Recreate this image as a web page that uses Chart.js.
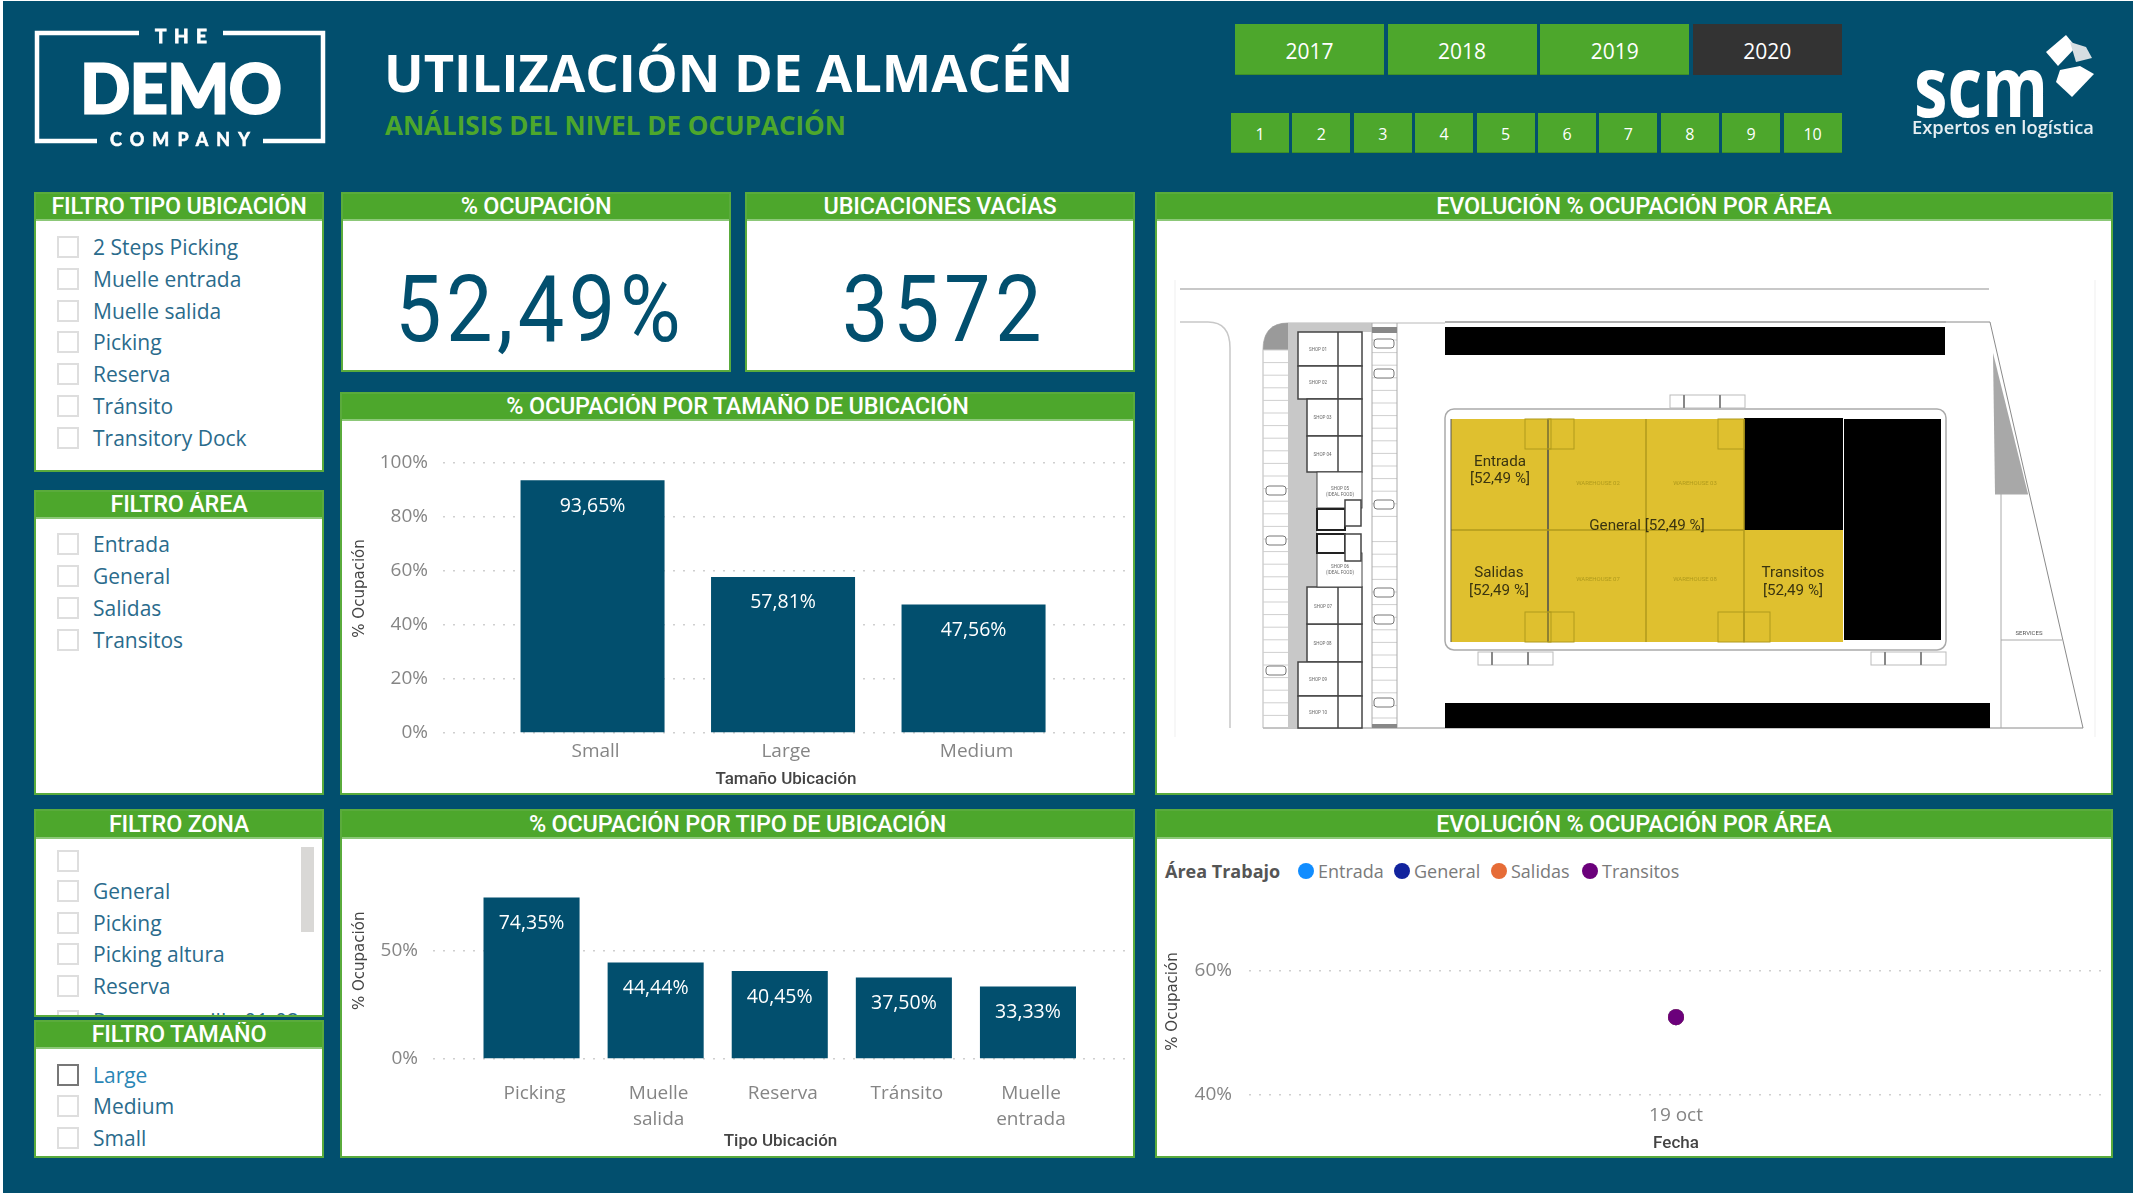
<!DOCTYPE html>
<html lang="es">
<head>
<meta charset="utf-8">
<title>Utilización de almacén</title>
<script src="https://cdn.jsdelivr.net/npm/chart.js@4/dist/chart.umd.js"></script>
<style>
html, body { margin: 0; padding: 0; background: #fff; width: 2133px; height: 1193px; overflow: hidden; }
#bg { position: absolute; left: 3px; top: 1px; width: 2130px; height: 1192px; background: #024f6e; }
.panel { position: absolute; background: #fff; box-sizing: border-box; border: 2px solid #5aab3c; overflow: hidden; }
.panel .head { position: absolute; left: -2px; right: -2px; top: -2px; background: #4da72c; border-bottom: 2px solid #8cc878; color: #fff;
  font: 500 23.4px Roboto, sans-serif; text-align: center; box-sizing: border-box; letter-spacing: -0.2px; }
.row { position: absolute; color: #2a6b8c; font: 400 21px "Open Sans", sans-serif; white-space: nowrap; line-height: 30px; }
.box { position: absolute; width: 22px; height: 22px; box-sizing: border-box; border: 2px solid #dedede; background: #fff; }
.btn { position: absolute; color: #fff; text-align: center; background: #4da72c; font-family: "Open Sans", sans-serif; border-bottom: 1px solid #3f8f27; box-sizing: border-box; }
.big { position: absolute; color: #024f6e; text-align: center; font: 400 92px Roboto, sans-serif; letter-spacing: 5px; line-height: 100px; transform: scaleX(0.9); }
.title { position: absolute; white-space: nowrap; font-family: "Open Sans", sans-serif; }
.leg { position: absolute; white-space: nowrap; font: 400 18px "Open Sans", sans-serif; color: #7a7a7a; line-height: 24px; }
.dot { position: absolute; width: 16px; height: 16px; border-radius: 50%; }
canvas { position: absolute; }
svg { position: absolute; left: 0; top: 0; pointer-events: none; }
</style>
</head>
<body>
<div id="bg"></div>
<div id="page"></div>
<canvas id="chartTamano" width="791" height="372" style="left:342px;top:422px"></canvas>
<canvas id="chartTipo" width="791" height="317" style="left:342px;top:839px"></canvas>
<canvas id="chartFecha" width="954" height="317" style="left:1157px;top:840px"></canvas>
<svg id="map" width="2133" height="1193" viewBox="0 0 2133 1193"></svg>

<script>
// datos
const aniosLabels = ['2017', '2018', '2019', '2020'];
const periodos = ['1', '2', '3', '4', '5', '6', '7', '8', '9', '10'];
const filtroTipo = ['2 Steps Picking', 'Muelle entrada', 'Muelle salida', 'Picking', 'Reserva', 'Tránsito', 'Transitory Dock'];
const filtroArea = ['Entrada', 'General', 'Salidas', 'Transitos'];
const filtroZona = ['', 'General', 'Picking', 'Picking altura', 'Reserva', 'Reserva pasillo 01-02'];
const filtroTamano = ['Large', 'Medium', 'Small'];

const tamanoLabels = ['Small', 'Large', 'Medium'];
const tamanoValores = [93.65, 57.81, 47.56];

const tipoLabels = [['Picking'], ['Muelle', 'salida'], ['Reserva'], ['Tránsito'], ['Muelle', 'entrada']];
const tipoValores = [74.35, 44.44, 40.45, 37.50, 33.33];

const fechaLabels = ['19 oct'];
const areaNombres = ['Entrada', 'General', 'Salidas', 'Transitos'];
const areaColores = ['#118dff', '#12239e', '#e66c37', '#6b007b'];
const areaValores = [52.49, 52.49, 52.49, 52.49];

const azul = '#024f6e';
const gris = '#858585';
const grisTitulo = '#444444';
const page = document.getElementById('page');

function div(cls, css, text) {
  const d = document.createElement('div');
  d.className = cls;
  d.style.cssText = css;
  if (text !== undefined) d.textContent = text;
  page.appendChild(d);
  return d;
}
function panel(x, y, w, h, titulo, hh) {
  const p = div('panel', `left:${x}px;top:${y}px;width:${w}px;height:${h}px`);
  const t = document.createElement('div');
  t.className = 'head';
  t.style.height = hh + 'px';
  t.style.lineHeight = hh + 'px';
  t.textContent = titulo;
  p.appendChild(t);
  return p;
}
function filas(p, px, py, items, centros, activo) {
  items.forEach((txt, i) => {
    const cy = centros[i] - py - 2;
    const b = document.createElement('div');
    b.className = 'box';
    b.style.cssText = `left:${57 - px - 2}px;top:${cy - 11}px` + (txt === activo ? ';border-color:#777' : '');
    p.appendChild(b);
    const r = document.createElement('div');
    r.className = 'row';
    r.style.cssText = `left:${93 - px - 2}px;top:${cy - 15}px` + (txt === activo ? ';color:#2a86b5' : '');
    r.textContent = txt;
    p.appendChild(r);
  });
}

// filtros
filas(panel(34, 192, 290, 280, 'FILTRO TIPO UBICACIÓN', 29), 34, 192, filtroTipo, [247, 279, 311, 342, 374, 406, 438]);
filas(panel(34, 490, 290, 305, 'FILTRO ÁREA', 29), 34, 490, filtroArea, [544, 576, 608, 640]);
const zona = panel(34, 809, 290, 208, 'FILTRO ZONA', 30);
filas(zona, 34, 809, filtroZona, [861, 891, 923, 954, 986, 1021]);
const barra = document.createElement('div');
barra.style.cssText = 'position:absolute;left:265px;top:36px;width:13px;height:85px;background:#d9d8d6';
zona.appendChild(barra);
filas(panel(34, 1020, 290, 138, 'FILTRO TAMAÑO', 29), 34, 1020, filtroTamano, [1075, 1106, 1138], 'Large');

// kpi
panel(341, 192, 390, 180, '% OCUPACIÓN', 29);
panel(745, 192, 390, 180, 'UBICACIONES VACÍAS', 29);
div('big', 'left:345px;top:260px;width:390px', '52,49%');
div('big', 'left:749px;top:260px;width:390px', '3572');

// demas paneles
panel(340, 392, 795, 403, '% OCUPACIÓN POR TAMAÑO DE UBICACIÓN', 29);
panel(340, 809, 795, 349, '% OCUPACIÓN POR TIPO DE UBICACIÓN', 30);
panel(1155, 192, 958, 603, 'EVOLUCIÓN % OCUPACIÓN POR ÁREA', 29);
panel(1155, 809, 958, 349, 'EVOLUCIÓN % OCUPACIÓN POR ÁREA', 30);

// cabecera
div('title', 'left:384px;top:36px;font-size:52.5px;font-weight:700;color:#fff;line-height:72px', 'UTILIZACIÓN DE ALMACÉN');
div('title', 'left:385px;top:107px;font-size:26px;font-weight:700;color:#4da72c;line-height:36px', 'ANÁLISIS DEL NIVEL DE OCUPACIÓN');
aniosLabels.forEach((a, i) => {
  const bg = a === '2020' ? 'background:#333;border:0' : '';
  div('btn', `left:${1235 + i * 152.6}px;top:24px;width:149px;height:51px;line-height:55px;font-size:21px;${bg}`, a);
});
periodos.forEach((n, i) => {
  div('btn', `left:${1231 + i * 61.4}px;top:113px;width:58px;height:40px;line-height:42px;font-size:16px`, n);
});

// leyenda del grafico de fechas
div('leg', 'left:1165px;top:859px;font-weight:700;color:#555', 'Área Trabajo');
const legX = [1298, 1394, 1491, 1582];
areaNombres.forEach((n, i) => {
  div('dot', `left:${legX[i]}px;top:863px;background:${areaColores[i]}`);
  div('leg', `left:${legX[i] + 20}px;top:859px`, n);
});

// logos y plano (dibujo de fondo, no son datos)
const svg = document.getElementById('map');
let s = '';
const rect = (x, y, w, h, f, st, sw, rx) => { s += `<rect x="${x}" y="${y}" width="${w}" height="${h}" fill="${f || 'none'}" stroke="${st || 'none'}" stroke-width="${sw || 1}" rx="${rx || 0}"/>`; };
const line = (a, b, c, d, st, sw) => { s += `<line x1="${a}" y1="${b}" x2="${c}" y2="${d}" stroke="${st}" stroke-width="${sw || 1}"/>`; };
const text = (x, y, t, size, fill, extra) => { s += `<text x="${x}" y="${y}" font-size="${size}" fill="${fill}" text-anchor="middle" dominant-baseline="central" ${extra || ''}>${t}</text>`; };
const path = (d, f, st, sw) => { s += `<path d="${d}" fill="${f || 'none'}" stroke="${st || 'none'}" stroke-width="${sw || 1}"/>`; };

// logo demo
path('M139 33H37V141H97M223 33H323V141H263', '', '#fff', 4.5);
text(181, 35, 'THE', 19, '#fff', 'font-family="Lato" font-weight="700" stroke="#fff" stroke-width="0.8" textLength="52" lengthAdjust="spacing"');
text(181, 87, 'DEMO', 66, '#fff', 'font-family="Lato" font-weight="700" stroke="#fff" stroke-width="3" textLength="201" lengthAdjust="spacingAndGlyphs"');
text(180, 139, 'COMPANY', 18, '#fff', 'font-family="Lato" font-weight="700" stroke="#fff" stroke-width="0.6" textLength="140" lengthAdjust="spacing"');

// logo scm
text(1981, 84, 'scm', 84, '#fff', 'font-family="Open Sans" font-weight="700" textLength="134" lengthAdjust="spacingAndGlyphs"');
text(2003, 126, 'Expertos en logística', 18.5, '#e6eef2', 'font-family="Open Sans" font-weight="600" textLength="182" lengthAdjust="spacingAndGlyphs"');
path('M2046 52L2066 35L2076 47L2058 66Z', '#fff');
path('M2070 42L2086 47L2092 58L2076 62Z', '#d6dee2');
path('M2060 70L2080 66L2094 74L2072 97L2056 82Z', '#fff');

// plano: limites
line(1180, 289, 1989, 289, '#c8c8c8', 2);
line(1175, 280, 1175, 737, '#efefef');
line(2095, 280, 2095, 737, '#efefef');
path('M1180 322H1208Q1230 322 1230 348V728', '', '#c8c8c8', 1.5);
path('M1445 322H1990L2083 728H1263', '', '#8a8a8a', 1);
path('M1263 728V350Q1263 323 1288 323H1445', '', '#b8b8b8', 1);
path('M1993 353L2028 494H1995Z', '#a8a8a8');
path('M2001 494V728M1995 494H2028M2001 640H2062', '', '#aaa', 1);
text(2029, 632, 'SERVICES', 6, '#555', 'font-family="Roboto"');

// plano: corredor gris y tiendas
path('M1288 323H1372V332H1298V399H1307V472H1317V587H1307V662H1298V728H1288Z', '#c8c8c8');
path('M1263 350Q1263 323 1288 323V350Z', '#9a9a9a');
const tiendas = [[1298, 332, 366], [1298, 366, 399], [1307, 399, 436], [1307, 436, 472], [1307, 624, 662], [1298, 662, 696], [1298, 696, 728]];
const tiendaNum = ['01', '02', '03', '04', '08', '09', '10'];
tiendas.forEach((t, i) => {
  rect(t[0], t[1], 1362 - t[0], t[2] - t[1], '#fff', '#444', 1.5);
  line(1338, t[1], 1338, t[2], '#444', 1.5);
  text((t[0] + 1338) / 2, (t[1] + t[2]) / 2, 'SHOP ' + tiendaNum[i], 4.5, '#666', 'font-family="Roboto"');
});
rect(1307, 587, 55, 37, '#fff', '#444', 1.5);
line(1338, 587, 1338, 624, '#444', 1.5);
text(1323, 606, 'SHOP 07', 4.5, '#666', 'font-family="Roboto"');
rect(1317, 472, 45, 36, '#fff', '#444', 1);
text(1340, 488, 'SHOP 05', 4.5, '#666', 'font-family="Roboto"');
text(1340, 494, '(IDEAL FOOD)', 4.5, '#666', 'font-family="Roboto"');
rect(1317, 553, 45, 34, '#fff', '#444', 1);
text(1340, 566, 'SHOP 06', 4.5, '#666', 'font-family="Roboto"');
text(1340, 572, '(IDEAL FOOD)', 4.5, '#666', 'font-family="Roboto"');
rect(1317, 509, 28, 21, '#fff', '#222', 2);
rect(1317, 534, 28, 19, '#fff', '#222', 2);
rect(1345, 500, 16, 26, '#fff', '#444', 1.5);
rect(1345, 534, 16, 27, '#fff', '#444', 1.5);

// plano: aparcamientos
for (let y = 350; y < 728; y += 12.6) line(1263, y, 1288, y, '#cfcfcf');
for (let y = 340; y < 728; y += 12.6) {
  if (y < 525 || y > 538) line(1372, y, 1397, y, '#cfcfcf');
}
line(1372, 323, 1372, 728, '#aaa');
line(1397, 323, 1397, 728, '#aaa');
rect(1372, 327, 25, 6, '#888');
rect(1372, 724, 25, 4, '#888');
[[1266, 486], [1266, 536], [1266, 666]].forEach(c => rect(c[0], c[1], 20, 9, '#fff', '#777', 1, 3));
[[1374, 339], [1374, 369], [1374, 500], [1374, 588], [1374, 615], [1374, 698]].forEach(c => rect(c[0], c[1], 20, 9, '#fff', '#777', 1, 3));

// plano: bloques negros
rect(1445, 327, 500, 28, '#000');
rect(1445, 703, 545, 25, '#000');
line(1445, 322, 1946, 322, '#aaa', 1.5);
rect(1445, 409, 501, 241, '#fff', '#aaa', 1.5, 9);
[[1670, 395], [1478, 652], [1871, 652]].forEach(c => {
  rect(c[0], c[1], 75, 13, 'none', '#bbb');
  line(c[0] + 14, c[1], c[0] + 14, c[1] + 13, '#888', 2);
  line(c[0] + 50, c[1], c[0] + 50, c[1] + 13, '#888', 2);
});

// plano: zonas amarillas
rect(1744, 418, 99, 112, '#000');
rect(1844, 419, 97, 221, '#000');
path('M1451 419H1744V530H1843V642H1451Z', '#dfc02f');
[1548, 1646, 1744].forEach(x => line(x, 419, x, 642, '#b09a1c', 1.5));
line(1548, 419, 1548, 642, '#555', 1.5);
line(1451, 530, 1744, 530, '#b09a1c', 1.5);
line(1451, 419, 1451, 642, '#555', 1);
[[1525, 419], [1548, 419], [1718, 419]].forEach(c => rect(c[0], c[1], 26, 30, 'none', '#b09a1c'));
[[1525, 612], [1548, 612], [1718, 612], [1744, 612]].forEach(c => rect(c[0], c[1], 26, 30, 'none', '#b09a1c'));
[[1598, 482, '02'], [1695, 482, '03'], [1598, 578, '07'], [1695, 578, '08']].forEach(w => {
  text(w[0], w[1], 'WAREHOUSE ' + w[2], 6, '#b09a1c', 'font-family="Roboto"');
});
const mapFont = 'font-family="Roboto"';
text(1500, 461, 'Entrada', 15.2, '#3a3410', mapFont);
text(1500, 478, '[52,49 %]', 15.2, '#3a3410', mapFont);
text(1647, 525, 'General [52,49 %]', 15.2, '#3a3410', mapFont);
text(1499, 572, 'Salidas', 15.2, '#3a3410', mapFont);
text(1499, 590, '[52,49 %]', 15.2, '#3a3410', mapFont);
text(1793, 572, 'Transitos', 15.2, '#3a3410', mapFont);
text(1793, 590, '[52,49 %]', 15.2, '#3a3410', mapFont);
svg.innerHTML = s;

// Chart.js
Chart.defaults.font.family = '"Open Sans", sans-serif';
Chart.defaults.animation = false;
Chart.defaults.responsive = false;
Chart.defaults.devicePixelRatio = 1;
Chart.defaults.plugins.legend.display = false;
Chart.defaults.plugins.tooltip.enabled = false;

const fmt = v => v.toFixed(2).replace('.', ',') + '%';
// etiquetas blancas dentro de las barras
const etiquetas = {
  id: 'etiquetas',
  afterDatasetsDraw(chart) {
    const ctx = chart.ctx;
    const ds = chart.data.datasets[0];
    ctx.save();
    ctx.fillStyle = '#fff';
    ctx.font = '19.5px "Open Sans", sans-serif';
    ctx.textAlign = 'center';
    ctx.textBaseline = 'middle';
    chart.getDatasetMeta(0).data.forEach((bar, i) => {
      ctx.fillText(fmt(ds.data[i].y), bar.x, bar.y + 26);
    });
    ctx.restore();
  }
};
const tickFont = { size: 19 };
const tituloX = { size: 17, family: 'Roboto', weight: '500' };
function ejeY(min, max, paso, ancho, aire) {
  return {
    min, max,
    border: { display: false, dash: [2, 8] },
    grid: { color: '#cfcfcf', lineWidth: 1.5, drawTicks: false },
    ticks: { color: gris, font: tickFont, padding: 15, stepSize: paso, includeBounds: false, callback: v => v + '%' },
    // los espacios suben el titulo respecto al centro del eje
    title: { display: true, text: aire + '% Ocupación', color: grisTitulo, font: { size: 15, family: '"DejaVu Sans"' }, padding: { top: 9, bottom: 0 } },
    afterFit: sc => { sc.width = ancho; }
  };
}
function ejeX(labels, titulo, alto, min, max, pad, interlinea) {
  return {
    type: 'linear', min, max,
    offset: false,
    grid: { display: false },
    border: { display: false },
    ticks: {
      stepSize: 1, color: gris, font: { size: 19, lineHeight: interlinea }, padding: pad, maxRotation: 0, autoSkip: false, includeBounds: false, labelOffset: 3,
      callback: v => labels[v] === undefined ? '' : labels[v]
    },
    title: { display: true, text: titulo, color: grisTitulo, font: tituloX, padding: { top: 0, bottom: 4 } },
    afterFit: sc => { sc.height = alto; }
  };
}

new Chart(document.getElementById('chartTamano'), {
  type: 'bar',
  data: {
    datasets: [{
      data: tamanoValores.map((y, x) => ({ x, y })),
      backgroundColor: azul,
      barPercentage: 0.756,
      categoryPercentage: 1
    }]
  },
  options: {
    layout: { padding: { top: 41, right: 4 } },
    scales: {
      x: ejeX(tamanoLabels, 'Tamaño Ubicación', 61, -0.785, 2.816, -1, 1.2),
      y: ejeY(0, 100, 20, 101, '\u00a0\u00a0\u00a0\u00a0')
    }
  },
  plugins: [etiquetas]
});

new Chart(document.getElementById('chartTipo'), {
  type: 'bar',
  data: {
    datasets: [{
      data: tipoValores.map((y, x) => ({ x, y })),
      backgroundColor: azul,
      barPercentage: 0.774,
      categoryPercentage: 1
    }]
  },
  options: {
    layout: { padding: { top: 57, right: 5 } },
    scales: {
      x: ejeX(tipoLabels, 'Tipo Ubicación', 97, -0.794, 4.806, 14, 1.37),
      y: ejeY(0, 75, 50, 91, '\u00a0\u00a0\u00a0\u00a0\u00a0\u00a0\u00a0')
    }
  },
  plugins: [etiquetas]
});

new Chart(document.getElementById('chartFecha'), {
  type: 'line',
  data: {
    labels: fechaLabels,
    datasets: areaNombres.map((n, i) => ({
      label: n,
      data: [areaValores[i]],
      showLine: false,
      order: areaNombres.length - i, // Transitos queda encima
      pointRadius: 8,
      pointBackgroundColor: areaColores[i],
      pointBorderWidth: 0
    }))
  },
  options: {
    layout: { padding: { top: 68, right: 8 } },
    scales: {
      x: {
        offset: true,
        grid: { display: false },
        border: { display: false },
        ticks: { color: gris, font: tickFont, padding: 1 },
        title: { display: true, text: 'Fecha', color: grisTitulo, font: tituloX, padding: { top: 0, bottom: 3 } },
        afterFit: sc => { sc.height = 62; }
      },
      y: (() => {
        const e = ejeY(40, 70, 20, 92, '');
        e.ticks.padding = 17;
        e.title.padding = { top: 7, bottom: 0 };
        return e;
      })()
    }
  }
});
</script>
</body>
</html>
